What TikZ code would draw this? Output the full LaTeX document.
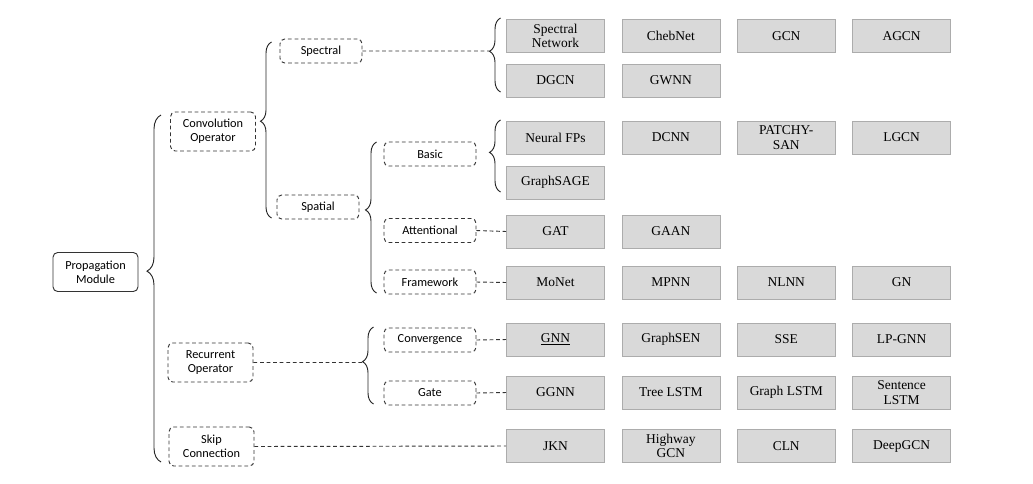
\documentclass[tikz,border=0pt]{standalone}
\usepackage{fontspec}
\setmainfont{Liberation Serif}
\newfontfamily\timesf{Liberation Serif}
\newfontfamily\calib{Carlito}
\usepackage{tikz}
\usetikzlibrary{positioning,decorations.pathreplacing}

\begin{document}
\begin{tikzpicture}[%
    x=0.3mm,
    y=-0.3mm,
    node distance=5mm,
    line width=0.8pt,
    model/.style={%
      rectangle,
      fill=gray!30,
      draw=gray!65,
      line width=0.6pt,
      minimum width=29.4mm,
      minimum height=9.9mm,
      inner sep=1pt,
      align=center,
      font=\timesf\fontsize{11.5}{12.6}\selectfont
    },
    cat/.style={%
      rectangle,
      rounded corners=4pt,
      draw=black!80,
      dash pattern=on 3.2pt off 2.4pt,
      minimum width=27.6mm,
      minimum height=7.2mm,
      inner sep=1pt,
      align=center,
      font=\calib\fontsize{10.5}{12.2}\selectfont
    },
    top/.style={%
      cat,
      minimum width=25.5mm,
      minimum height=11.7mm
    },
    root/.style={%
      top,
      solid
    },
    link/.style={%
      draw=black!80,
      dash pattern=on 3.2pt off 2.4pt
    },
    brace/.style={%
      draw=black!85,
      decorate,
      decoration={brace, amplitude=#1, aspect=0.55}
    }
  ]
    \useasboundingbox (0,0) rectangle (1033,483);

    % first and second level
    \node[root] (prop)                            at (95.5,272)  {Propagation\\Module};
    \node[top]  (conv)                            at (213,131.5) {Convolution\\Operator};
    \node[top]  (rec)                             at (210.5,362.5) {Recurrent\\Operator};
    \node[top]  (skip)                            at (211.5,446.5) {Skip\\Connection};
    \node[cat, minimum width=24.6mm] (spectral)   at (321,51)    {Spectral};
    \node[cat, minimum width=24.6mm] (spatial)    at (318,207)   {Spatial};
    \node[cat]  (basic)                           at (430,154)   {Basic};
    \node[cat]  (att)                             at (430,230.5) {Attentional};
    \node[cat]  (frame)                           at (430,282)   {Framework};
    \node[cat]  (conver)                          at (430,340)   {Convergence};
    \node[cat]  (gate)                            at (430,393)   {Gate};

    % models
    \node[model] (specnet)                        at (555.5,36)  {Spectral\\Network};
    \node[model] (chebnet) [right=of specnet]                    {ChebNet};
    \node[model] (gcn)     [right=of chebnet]                    {GCN};
    \node[model] (agcn)    [right=of gcn]                        {AGCN};
    \node[model] (dgcn)                           at (555.5,80.5) {DGCN};
    \node[model] (gwnn)    [right=of dgcn]                       {GWNN};

    \node[model] (nfp)                            at (555.5,137.5) {Neural FPs};
    \node[model] (dcnn)    [right=of nfp]                        {DCNN};
    \node[model] (patchy)  [right=of dcnn]                       {PATCHY-\\SAN};
    \node[model] (lgcn)    [right=of patchy]                     {LGCN};
    \node[model] (sage)                           at (555.5,182.5) {GraphSAGE};

    \node[model] (gat)                            at (555.5,231.5) {GAT};
    \node[model] (gaan)    [right=of gat]                        {GAAN};

    \node[model] (monet)                          at (555.5,282.5) {MoNet};
    \node[model] (mpnn)    [right=of monet]                      {MPNN};
    \node[model] (nlnn)    [right=of mpnn]                       {NLNN};
    \node[model] (gn)      [right=of nlnn]                       {GN};

    \node[model] (gnn)                            at (555.5,339.5) {\underline{GNN}};
    \node[model] (graphsen)[right=of gnn]                        {GraphSEN};
    \node[model] (sse)     [right=of graphsen]                   {SSE};
    \node[model] (lpgnn)   [right=of sse]                        {LP-GNN};

    \node[model] (ggnn)                           at (555.5,392.5) {GGNN};
    \node[model] (treelstm)[right=of ggnn]                       {Tree LSTM};
    \node[model] (glstm)   [right=of treelstm]                   {Graph LSTM};
    \node[model] (slstm)   [right=of glstm]                      {Sentence\\LSTM};

    \node[model] (jkn)                            at (555.5,446) {JKN};
    \node[model] (highway) [right=of jkn]                        {Highway\\GCN};
    \node[model] (cln)     [right=of highway]                    {CLN};
    \node[model] (deepgcn) [right=of cln]                        {DeepGCN};

    % braces
    \coordinate (propTop) at (161,115);
    \coordinate (propBot) at (161,462);
    \coordinate (convTop) at (271.5,42);
    \coordinate (convBot) at (271.5,218);
    \coordinate (specTop) at (500.5,18);
    \coordinate (specBot) at (500.5,92);
    \coordinate (specTip) at (489.5,51);
    \coordinate (spatTop) at (376.5,142);
    \coordinate (spatBot) at (376.5,293);
    \coordinate (basTop)  at (500.5,120);
    \coordinate (basBot)  at (500.5,192);
    \coordinate (recTop)  at (373.5,327);
    \coordinate (recBot)  at (373.5,404);
    \coordinate (recTip)  at (362.5,362);

    \draw[brace=4.2mm] (propBot) -- (propTop);
    \draw[brace=3.3mm] (convBot) -- (convTop);
    \draw[brace=3.3mm] (specBot) -- (specTop);
    \draw[brace=3.3mm] (spatBot) -- (spatTop);
    \draw[brace=3.3mm] (basBot)  -- (basTop);
    \draw[brace=3.3mm] (recBot)  -- (recTop);

    % dashed links
    \path[link] (spectral.east) -- (spectral.east -| specTip)
                (rec.east)      -- (rec.east -| recTip)
                (att.east)      -- (gat.west)
                (frame.east)    -- (monet.west)
                (conver.east)   -- (gnn.west)
                (gate.east)     -- (ggnn.west)
                (skip.east)     -- (jkn.west);
\end{tikzpicture}
\end{document}
